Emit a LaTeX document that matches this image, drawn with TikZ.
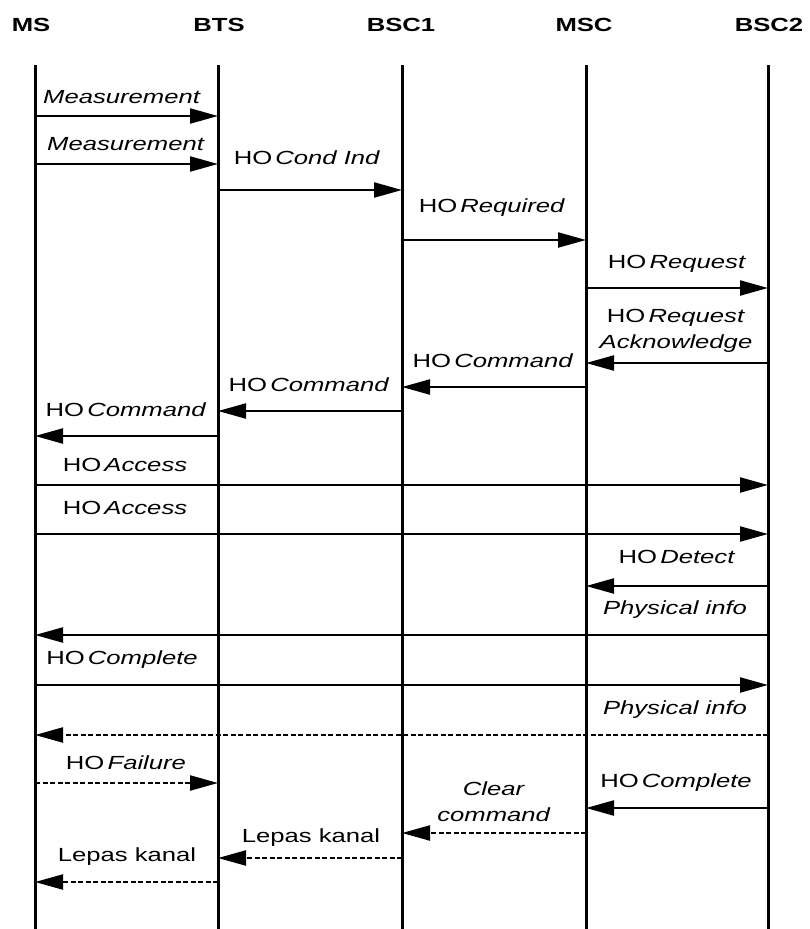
\documentclass[tikz,border=0pt]{standalone}
\usepackage{fontspec}
\newfontfamily\seqfont[FakeStretch=1.35]{Liberation Sans}
\usetikzlibrary{arrows.meta}

\tikzset{
  hdr/.style={font=\seqfont\fontsize{19}{21}\selectfont\bfseries, inner sep=0pt},
  lbl/.style={font=\seqfont\fontsize{19}{26}\selectfont, inner sep=0pt, align=center},
  lifeline/.style={line width=3pt},
  msg/.style={line width=2.2pt, -{Triangle[length=28pt,width=15pt]}},
  msgdash/.style={msg, dash pattern=on 5pt off 2.5pt},
}
\newcommand{\ho}[1]{HO\,\textit{#1}}

\begin{document}
\begin{tikzpicture}[x=1pt,y=-1pt]
  \useasboundingbox (0,0) rectangle (809,929);

  % entities
  \node[hdr] (ms)   at (31,25)  {MS};
  \node[hdr] (bts)  at (219,25) {BTS};
  \node[hdr] (bsc1) at (401,25) {BSC1};
  \node[hdr] (msc)  at (584,25) {MSC};
  \node[hdr] (bsc2) at (769,25) {BSC2};

  \coordinate (msl)   at (35,65);
  \coordinate (btsl)  at (218,65);
  \coordinate (bsc1l) at (402,65);
  \coordinate (mscl)  at (586,65);
  \coordinate (bsc2l) at (768,65);

  \foreach \l in {msl,btsl,bsc1l,mscl,bsc2l}
    \draw[lifeline] (\l) -- (\l |- 0,929);

  % messages
  \draw[msg] (msl |- 0,116) -- (btsl |- 0,116);
  \node[lbl] (m1) at (122,97) {\textit{Measurement}};
  \draw[msg] (msl |- 0,164) -- (btsl |- 0,164);
  \node[lbl] (m2) at (126,144) {\textit{Measurement}};
  \draw[msg] (btsl |- 0,190) -- (bsc1l |- 0,190);
  \node[lbl] (m3) at (307,158) {\ho{Cond Ind}};
  \draw[msg] (bsc1l |- 0,240) -- (mscl |- 0,240);
  \node[lbl] (m4) at (492,208) {\ho{Required}};
  \draw[msg] (mscl |- 0,288) -- (bsc2l |- 0,288);
  \node[lbl] (m5) at (677,264) {\ho{Request}};
  \draw[msg] (bsc2l |- 0,363) -- (mscl |- 0,363);
  \node[lbl] (m6) at (676,331) {\ho{Request}\\\textit{Acknowledge}};
  \draw[msg] (mscl |- 0,387) -- (bsc1l |- 0,387);
  \node[lbl] (m7) at (493,361) {\ho{Command}};
  \draw[msg] (bsc1l |- 0,411) -- (btsl |- 0,411);
  \node[lbl] (m8) at (309,385) {\ho{Command}};
  \draw[msg] (btsl |- 0,436) -- (msl |- 0,436);
  \node[lbl] (m9) at (126,410) {\ho{Command}};
  \draw[msg] (msl |- 0,485) -- (bsc2l |- 0,485);
  \node[lbl] (m10) at (125,465) {\ho{Access}};
  \draw[msg] (msl |- 0,534) -- (bsc2l |- 0,534);
  \node[lbl] (m11) at (125,508) {\ho{Access}};
  \draw[msg] (bsc2l |- 0,586) -- (mscl |- 0,586);
  \node[lbl] (m12) at (677,557) {\ho{Detect}};
  \draw[msg] (bsc2l |- 0,635) -- (msl |- 0,635);
  \node[lbl] (m13) at (675,610) {\textit{Physical info}};
  \draw[msg] (msl |- 0,685) -- (bsc2l |- 0,685);
  \node[lbl] (m14) at (122,660) {\ho{Complete}};
  \draw[msgdash] (bsc2l |- 0,735) -- (msl |- 0,735);
  \node[lbl] (m15) at (675,710) {\textit{Physical info}};
  \draw[msgdash] (msl |- 0,783) -- (btsl |- 0,783);
  \node[lbl] (m16) at (126,763) {\ho{Failure}};
  \draw[msg] (bsc2l |- 0,808) -- (mscl |- 0,808);
  \node[lbl] (m17) at (676,783) {\ho{Complete}};
  \draw[msgdash] (mscl |- 0,833) -- (bsc1l |- 0,833);
  \node[lbl] (m18) at (494,802) {\textit{Clear}\\\textit{command}};
  \draw[msgdash] (bsc1l |- 0,858) -- (btsl |- 0,858);
  \node[lbl] (m19) at (311,838) {Lepas kanal};
  \draw[msgdash] (btsl |- 0,882) -- (msl |- 0,882);
  \node[lbl] (m20) at (127,857) {Lepas kanal};
\end{tikzpicture}
\end{document}
